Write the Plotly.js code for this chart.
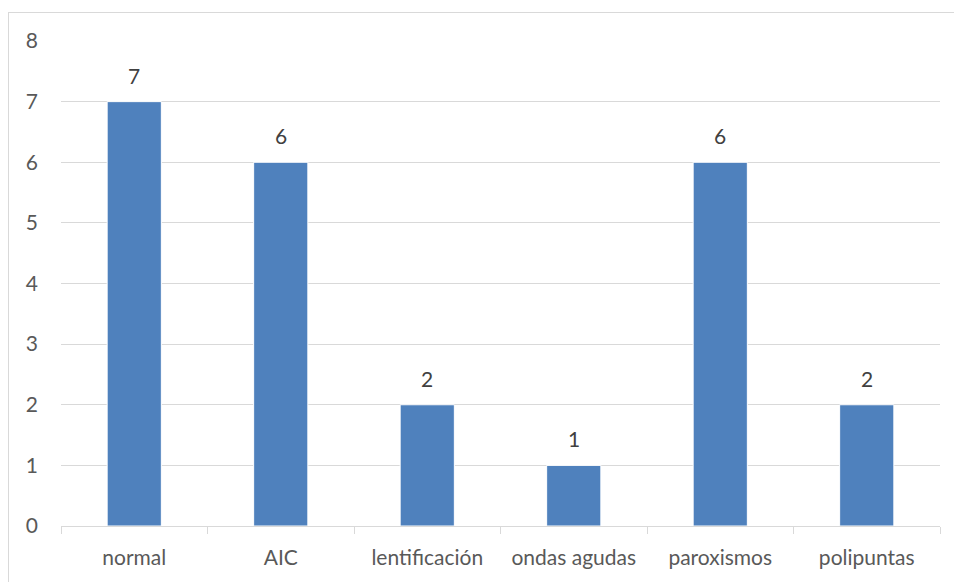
<!DOCTYPE html>
<html>
<head>
<meta charset="utf-8">
<script src="https://cdn.plot.ly/plotly-3.0.1.min.js"></script>
<style>
  html, body { margin: 0; padding: 0; background: #fff; }
  #wrap { position: relative; width: 954px; height: 582px; overflow: hidden; }
  #chart { width: 954px; height: 582px; }
  #frame { position: absolute; left: 8px; top: 12px; width: 960px; height: 600px;
           border: 1px solid #d9d9d9; box-sizing: border-box; pointer-events: none; }
</style>
</head>
<body>
<div id="wrap">
  <div id="chart"></div>
  <div id="frame"></div>
</div>
<script>
// EEG findings and number of patients in each group
const categories = ['normal', 'AIC', 'lentificación', 'ondas agudas', 'paroxismos', 'polipuntas'];
const counts = [7, 6, 2, 1, 6, 2];
const yTicks = [0, 1, 2, 3, 4, 5, 6, 7, 8];

const fontFamily = 'Lato, "Open Sans", sans-serif';
const gridGrey = '#d9d9d9';

const bars = {
  type: 'bar',
  x: categories,
  y: counts,
  marker: { color: '#4f81bd', line: { color: '#ffffff', width: 1 } },
  hoverinfo: 'x+y'
};

// Value labels above each bar
const labels = categories.map((c, i) => ({
  x: c, y: counts[i], xref: 'x', yref: 'y',
  text: String(counts[i]), showarrow: false,
  yanchor: 'bottom', yshift: 12,
  font: { family: fontFamily, size: 21, color: '#404040' }
}));

const layout = {
  width: 954, height: 582,
  margin: { l: 61, r: 14, t: 41, b: 56 },
  paper_bgcolor: '#ffffff', plot_bgcolor: '#ffffff',
  showlegend: false,
  bargap: 0.63,
  xaxis: {
    type: 'category',
    showgrid: false,
    showline: true, linecolor: gridGrey, linewidth: 1,
    ticks: 'outside', tickson: 'boundaries', ticklen: 7, tickcolor: gridGrey,
    ticklabelstandoff: 13,
    tickfont: { family: fontFamily, size: 21, color: '#595959' }
  },
  yaxis: {
    range: [0, 8],
    tickvals: yTicks,
    ticktext: yTicks.map(String),
    showgrid: true, gridcolor: gridGrey, gridwidth: 1,
    zeroline: false, showline: false, ticks: '',
    ticklabelstandoff: 22,
    tickfont: { family: fontFamily, size: 21, color: '#595959' }
  },
  annotations: labels
};

Plotly.newPlot('chart', [bars], layout, { displayModeBar: false, staticPlot: true });
</script>
</body>
</html>
